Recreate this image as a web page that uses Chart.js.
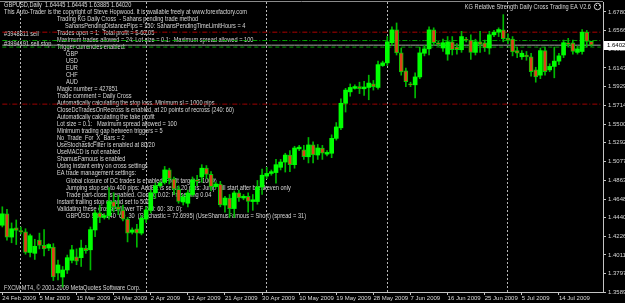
<!DOCTYPE html>
<html>
<head>
<meta charset="utf-8">
<title>GBPUSD Daily</title>
<script src="https://cdn.jsdelivr.net/npm/chart.js@4.4.1/dist/chart.umd.min.js"></script>
<style>
  html, body { margin: 0; padding: 0; background: #000; }
  canvas { display: block; }
</style>
</head>
<body>
<canvas id="chart" width="625" height="303"></canvas>
<script>
// ---------------------------------------------------------------
// GBPUSD daily bars, 24 Feb 2009 .. 22 Jul 2009 (FXCM, Sun-Fri)
// values
// ---------------------------------------------------------------
const openPrices = [
  1.4350, 1.4480, 1.4215, 1.4320, 1.4290, 1.4274, 1.4040, 1.4030,
  1.4180, 1.4120, 1.4090, 1.4100, 1.3806, 1.3760, 1.3840, 1.3950,
  1.3990, 1.3980, 1.4090, 1.4070, 1.4296, 1.4490, 1.4440, 1.4460,
  1.4620, 1.4560, 1.4524, 1.4420, 1.4270, 1.4310, 1.4260, 1.4420,
  1.4520, 1.4720, 1.4800, 1.4840, 1.4980, 1.4880, 1.4760, 1.4615,
  1.4600, 1.4700, 1.4866, 1.4900, 1.5000, 1.4930, 1.4790, 1.4820,
  1.4580, 1.4660, 1.4540, 1.4718, 1.4660, 1.4680, 1.4620, 1.4620,
  1.4786, 1.4910, 1.4940, 1.4950, 1.5010, 1.5070, 1.5150, 1.5040,
  1.5220, 1.5210, 1.5130, 1.5265, 1.5150, 1.5230, 1.5160, 1.5170,
  1.5340, 1.5460, 1.5740, 1.5870, 1.5910, 1.5930, 1.5905, 1.5920,
  1.5960, 1.5920, 1.6170, 1.6200, 1.6430, 1.6576, 1.6314, 1.6110,
  1.5960, 1.5950, 1.6040, 1.6310, 1.6360, 1.6576, 1.6430, 1.6370,
  1.6300, 1.6440, 1.6380, 1.6350, 1.6470, 1.6460, 1.6320, 1.6440,
  1.6430, 1.6370, 1.6520, 1.6550, 1.6576, 1.6480, 1.6470, 1.6340,
  1.6270, 1.6290, 1.6270, 1.6120, 1.6060, 1.6340, 1.6120, 1.6160,
  1.6220, 1.6290, 1.6430, 1.6430, 1.6320, 1.6330, 1.6550, 1.64445
];
const highPrices = [
  1.4560, 1.4530, 1.4376, 1.4410, 1.4330, 1.4310, 1.4250, 1.4190,
  1.4260, 1.4300, 1.4140, 1.4140, 1.3954, 1.3880, 1.4010, 1.4120,
  1.4080, 1.4180, 1.4120, 1.4330, 1.4524, 1.4580, 1.4480, 1.4780,
  1.4720, 1.4690, 1.4580, 1.4440, 1.4320, 1.4360, 1.4460, 1.4560,
  1.4750, 1.4830, 1.4850, 1.5020, 1.5000, 1.4900, 1.4800, 1.4700,
  1.4750, 1.4900, 1.4920, 1.5040, 1.5030, 1.4960, 1.4840, 1.4850,
  1.4680, 1.4700, 1.4740, 1.4750, 1.4700, 1.4720, 1.4700, 1.4860,
  1.4990, 1.5010, 1.4980, 1.5100, 1.5100, 1.5170, 1.5200, 1.5250,
  1.5260, 1.5260, 1.5350, 1.5300, 1.5270, 1.5260, 1.5200, 1.5380,
  1.5520, 1.5790, 1.5910, 1.5960, 1.5950, 1.5980, 1.5990, 1.6060,
  1.6000, 1.6220, 1.6220, 1.6500, 1.6610, 1.6655, 1.6370, 1.6140,
  1.5980, 1.6086, 1.6380, 1.6400, 1.6610, 1.6600, 1.6450, 1.6470,
  1.6500, 1.6500, 1.6420, 1.6560, 1.6490, 1.6520, 1.6470, 1.6560,
  1.6460, 1.6560, 1.6570, 1.6600, 1.6750, 1.6530, 1.6500, 1.6380,
  1.6340, 1.6330, 1.6310, 1.6150, 1.6370, 1.6380, 1.6190, 1.6380,
  1.6310, 1.6460, 1.6480, 1.6460, 1.6390, 1.6580, 1.6570, 1.64445
];
const lowPrices = [
  1.4330, 1.4180, 1.4150, 1.4130, 1.4250, 1.4020, 1.3990, 1.3960,
  1.4080, 1.4000, 1.4060, 1.3720, 1.3726, 1.3646, 1.3800, 1.3920,
  1.3900, 1.3880, 1.4030, 1.3840, 1.4220, 1.4380, 1.4420, 1.4420,
  1.4500, 1.4470, 1.4400, 1.4160, 1.4250, 1.4100, 1.4240, 1.4380,
  1.4490, 1.4660, 1.4780, 1.4820, 1.4820, 1.4700, 1.4600, 1.4580,
  1.4560, 1.4680, 1.4800, 1.4840, 1.4880, 1.4740, 1.4770, 1.4560,
  1.4500, 1.4440, 1.4440, 1.4620, 1.4640, 1.4500, 1.4520, 1.4590,
  1.4700, 1.4880, 1.4920, 1.4830, 1.4980, 1.4956, 1.4960, 1.5000,
  1.5200, 1.5100, 1.5060, 1.5060, 1.5100, 1.5100, 1.5140, 1.5120,
  1.5320, 1.5440, 1.5640, 1.5820, 1.5900, 1.5850, 1.5830, 1.5780,
  1.5890, 1.5900, 1.6160, 1.6170, 1.6400, 1.6290, 1.6060, 1.5930,
  1.5930, 1.5800, 1.6020, 1.6280, 1.6290, 1.6400, 1.6390, 1.6330,
  1.6230, 1.6290, 1.6300, 1.6320, 1.6440, 1.6240, 1.6290, 1.6320,
  1.6330, 1.6300, 1.6500, 1.6500, 1.6440, 1.6420, 1.6280, 1.6260,
  1.6240, 1.6230, 1.6050, 1.5980, 1.6020, 1.6060, 1.6100, 1.6030,
  1.6180, 1.6260, 1.6380, 1.6300, 1.6300, 1.6300, 1.6380, 1.63885
];
const closePrices = [
  1.4480, 1.4215, 1.4310, 1.4290, 1.4275, 1.4040, 1.4230, 1.4110,
  1.4120, 1.4080, 1.4130, 1.3760, 1.3897, 1.3840, 1.3980, 1.4070,
  1.3940, 1.4090, 1.4060, 1.4300, 1.4490, 1.4440, 1.4460, 1.4620,
  1.4560, 1.4530, 1.4420, 1.4260, 1.4296, 1.4260, 1.4430, 1.4524,
  1.4720, 1.4800, 1.4830, 1.4980, 1.4880, 1.4760, 1.4620, 1.4672,
  1.4718, 1.4866, 1.4850, 1.5000, 1.4930, 1.4790, 1.4820, 1.4580,
  1.4660, 1.4540, 1.4718, 1.4660, 1.4680, 1.4620, 1.4640, 1.4786,
  1.4920, 1.4940, 1.4960, 1.5040, 1.5070, 1.5150, 1.5040, 1.5230,
  1.5240, 1.5130, 1.5265, 1.5150, 1.5230, 1.5170, 1.5180, 1.5340,
  1.5470, 1.5740, 1.5890, 1.5920, 1.5930, 1.5905, 1.5925, 1.5970,
  1.5930, 1.6180, 1.6200, 1.6440, 1.6576, 1.6314, 1.6098, 1.5985,
  1.5950, 1.6040, 1.6314, 1.6360, 1.6576, 1.6430, 1.6410, 1.6430,
  1.6440, 1.6350, 1.6350, 1.6500, 1.6460, 1.6320, 1.6440, 1.6410,
  1.6370, 1.6520, 1.6550, 1.6580, 1.6475, 1.6460, 1.6325, 1.6310,
  1.6310, 1.6270, 1.6100, 1.6040, 1.6340, 1.6100, 1.6160, 1.6220,
  1.6280, 1.6430, 1.6410, 1.6330, 1.6360, 1.6550, 1.6445, 1.64020
];

// price axis labels (MT4 scale) and date labels (one every 8 bars)
const yTicks = [
  1.35890, 1.37970, 1.40115, 1.42260, 1.44400, 1.46485, 1.48630, 1.50775,
  1.52920, 1.55000, 1.57145, 1.59290, 1.61435, 1.63580, 1.65660, 1.67805
];
const dateTicks = [
  '24 Feb 2009', '5 Mar 2009', '15 Mar 2009', '24 Mar 2009', '2 Apr 2009',
  '12 Apr 2009', '21 Apr 2009', '30 Apr 2009', '10 May 2009', '19 May 2009',
  '28 May 2009', '7 Jun 2009', '16 Jun 2009', '25 Jun 2009', '5 Jul 2009',
  '14 Jul 2009'
];

// order / price levels on the chart
const sellOrderStop = 1.6550;   // red dash-dot
const sellOrderOpen = 1.6455;   // green dash-dot
const bidPrice = 1.64020;       // grey bid line
const sellStopOpen = 1.6380;    // green dashed
const sellStopLoss = 1.5730;    // red dash-dot, lower

// EA comment block (top-left)
const commentLines = [
  [4, 'GBPUSD,Daily  1.64445 1.64445 1.63885 1.64020'],
  [4, 'This Auto-Trader is the copyright of Steve Hopwood. It is available freely at www.forexfactory.com'],
  [57, 'Trading KG Daily Cross  - Sahans pending trade method'],
  [65, 'SahansPendingDistancePips = 150: SahansPendingTimeLimitHours = 4'],
  [57, 'Trades open = 1:  Total profit = $-60.05'],
  [57, 'Maximum trades allowed = 24: Lot size = 0.1:  Maximum spread allowed = 100'],
  [57, 'Trigger currencies enabled:'],
  [66, 'GBP'],
  [66, 'USD'],
  [66, 'EUR'],
  [66, 'CHF'],
  [66, 'AUD'],
  [57, 'Magic number = 427851'],
  [57, 'Trade comment = Daily Cross'],
  [57, 'Automatically calculating the stop loss. Minimum sl = 1000 pips'],
  [57, 'CloseDcTradesOnRecross is enabled, at 20 points of recross (240: 60)'],
  [57, 'Automatically calculating the take profit'],
  [57, 'Lot size = 0.1:   Maximum spread allowed = 100'],
  [57, 'Minimum trading gap between triggers = 5'],
  [57, 'No_Trade_For_X_Bars = 2'],
  [57, 'UseStochasticFilter is enabled at 80/20'],
  [57, 'UseMACD is not enabled'],
  [57, 'ShamusFamous is enabled'],
  [57, 'Using instant entry on cross settings'],
  [57, 'EA trade management settings:'],
  [66, 'Global closure of DC trades is enabled. Profit target is 100%'],
  [66, 'Jumping stop set to 400 pips: AddBE is set to 20 pips: Jump will start after breakeven only'],
  [66, 'Trade part-close is enabled. Closing 0.02: Preserving 0.04'],
  [57, 'Instant trailing stop on and set to 500'],
  [57, 'Validating these crosses (lower TF 240: 60: 30: 0):'],
  [66, 'GBPUSD Short 240  60  30  (Stochastic = 72.6995) (UseShamusFamous = Short) (spread = 31)']
];
const orderLabels = [[34, '#3948811 sell'], [44, '#3994191 sell stop']];
const eaTitle = 'KG Relative Strength Daily Cross Trading EA V2.6';
const copyright = 'FXCM-MT4, \u00A9 2001-2009 MetaQuotes Software Corp.';

// -------------------------------------------------------------
// bar calendar: FXCM daily bars run Sunday..Friday
// -------------------------------------------------------------
const TOTAL_SLOTS = 130;   // 128 bars + chart shift on the right
const MONTHS = ['Jan','Feb','Mar','Apr','May','Jun','Jul','Aug','Sep','Oct','Nov','Dec'];
const barLabels = [];
const barMonth = [];
for (let d = new Date(Date.UTC(2009, 1, 24)); barLabels.length < TOTAL_SLOTS; d.setUTCDate(d.getUTCDate() + 1)) {
  if (d.getUTCDay() === 6) continue;
  barLabels.push(d.getUTCDate() + ' ' + MONTHS[d.getUTCMonth()] + ' ' + d.getUTCFullYear());
  barMonth.push(d.getUTCMonth());
}
const isMonthStart = i => i > 0 && barMonth[i] !== barMonth[i - 1];

// -------------------------------------------------------------
// colours
// -------------------------------------------------------------
const BULL = '#00ff00';
const BEAR = '#e0401a';
const WICK = '#00b800';
const AXIS = '#c4c4c4';
const TEXT = '#d8d8d8';
const FONT = "'Liberation Sans', Arial, sans-serif";

const bodies = openPrices.map((o, i) => [o, closePrices[i]]);
const wicks = lowPrices.map((l, i) => [l, highPrices[i]]);
const bodyColors = openPrices.map((o, i) => closePrices[i] >= o ? BULL : BEAR);
const bodyBorders = openPrices.map((o, i) => closePrices[i] >= o ? 0 : 1);

const level = v => barLabels.map(() => v);

function levelLine(value, color, dash) {
  return {
    type: 'line',
    data: level(value),
    borderColor: color,
    borderWidth: 1,
    borderDash: dash,
    pointRadius: 0,
    fill: false,
    order: 10
  };
}

// -------------------------------------------------------------
// MT4 look: black background, comment text, price box
// -------------------------------------------------------------
function stretchedText(ctx, str, x, y, sx) {
  ctx.save();
  ctx.translate(x, y);
  ctx.scale(sx, 1);
  ctx.fillText(str, 0, 0);
  ctx.restore();
}

const mt4Overlay = {
  id: 'mt4Overlay',
  beforeDraw(chart) {
    const ctx = chart.ctx;
    ctx.save();
    ctx.fillStyle = '#000';
    ctx.fillRect(0, 0, chart.width, chart.height);
    ctx.restore();
  },
  beforeDatasetsDraw(chart) {
    const ctx = chart.ctx;
    ctx.save();
    ctx.font = '7.5px ' + FONT;
    ctx.textBaseline = 'middle';
    ctx.fillStyle = TEXT;
    // squeeze text so that the copyright line is as wide as in MT4
    const sx = 243 / ctx.measureText(commentLines[1][1]).width;

    commentLines.forEach(([x, str], i) => stretchedText(ctx, str, x, 4.7 + 7.03 * i, sx));
    orderLabels.forEach(([y, str]) => stretchedText(ctx, str, 4, y, sx));
    stretchedText(ctx, copyright, 4, 288, sx);

    const w = ctx.measureText(eaTitle).width * sx;
    stretchedText(ctx, eaTitle, 591 - w, 6.5, sx);
    ctx.beginPath();
    ctx.strokeStyle = TEXT;
    ctx.lineWidth = 1;
    ctx.arc(597.5, 6.5, 3.2, 0, Math.PI * 2);
    ctx.stroke();
    ctx.fillRect(596, 5, 1, 1);
    ctx.fillRect(599, 5, 1, 1);
    ctx.restore();
  },
  afterDraw(chart) {
    const ctx = chart.ctx;
    const area = chart.chartArea;
    const y = chart.scales.y.getPixelForValue(bidPrice);
    ctx.save();
    // top frame line
    ctx.strokeStyle = '#8a8a8a';
    ctx.beginPath();
    ctx.moveTo(0, area.top - 0.5);
    ctx.lineTo(area.right, area.top - 0.5);
    ctx.stroke();
    // current price box
    ctx.fillStyle = '#ffffff';
    ctx.fillRect(area.right + 1, Math.round(y) - 4, chart.width - area.right, 9);
    ctx.fillStyle = '#000';
    ctx.font = '6px ' + FONT;
    ctx.textBaseline = 'middle';
    ctx.fillText(bidPrice.toFixed(5), area.right + 4, Math.round(y) + 0.5);
    ctx.restore();
  }
};

// -------------------------------------------------------------
// chart
// -------------------------------------------------------------
new Chart(document.getElementById('chart'), {
  type: 'bar',
  data: {
    labels: barLabels,
    datasets: [
      levelLine(sellOrderStop, '#b00000', [5, 2, 1, 2]),
      levelLine(sellOrderOpen, '#00a800', [5, 2, 1, 2]),
      levelLine(bidPrice, '#a8a8a8', []),
      levelLine(sellStopOpen, '#00a000', [4, 3]),
      levelLine(sellStopLoss, '#a00000', [5, 2, 1, 2]),
      {
        label: 'wick',
        data: wicks,
        backgroundColor: WICK,
        barThickness: 1,
        grouped: false,
        order: 2
      },
      {
        label: 'body',
        data: bodies,
        backgroundColor: bodyColors,
        borderColor: '#00d000',
        borderWidth: bodyBorders,
        borderSkipped: false,
        barThickness: 4,
        minBarLength: 1,
        grouped: false,
        order: 1
      }
    ]
  },
  options: {
    responsive: false,
    animation: false,
    devicePixelRatio: 1,
    layout: { padding: { top: 2, left: 0, right: 0, bottom: 0 } },
    plugins: {
      legend: { display: false },
      tooltip: { enabled: false }
    },
    scales: {
      x: {
        offset: true,
        afterFit: s => { s.height = 11; s.paddingLeft = 0; s.paddingRight = 0; },
        ticks: {
          autoSkip: false,
          maxRotation: 0,
          minRotation: 0,
          align: 'start',
          padding: 0,
          color: TEXT,
          font: { family: FONT, size: 6 },
          callback: (v, i) => (i % 8 === 0 && dateTicks[i / 8]) ? dateTicks[i / 8] : ''
        },
        grid: {
          offset: false,
          drawTicks: true,
          tickLength: 3,
          color: c => isMonthStart(c.index) ? '#b8b8b8' : 'rgba(0,0,0,0)',
          tickColor: c => (c.index % 8 === 0 && dateTicks[c.index / 8]) ? AXIS : 'rgba(0,0,0,0)'
        },
        border: { color: AXIS, dash: [2, 2] }
      },
      y: {
        position: 'right',
        min: 1.3589,
        max: 1.6894,
        afterBuildTicks: s => { s.ticks = yTicks.map(v => ({ value: v })); },
        afterFit: s => { s.width = 22; s.paddingTop = 0; s.paddingBottom = 0; },
        ticks: {
          autoSkip: false,
          padding: 2,
          color: TEXT,
          font: { family: FONT, size: 6 },
          callback: v => v.toFixed(5)
        },
        grid: { drawOnChartArea: false, drawTicks: true, tickLength: 3, color: AXIS },
        border: { color: AXIS }
      }
    }
  },
  plugins: [mt4Overlay]
});
</script>
</body>
</html>
